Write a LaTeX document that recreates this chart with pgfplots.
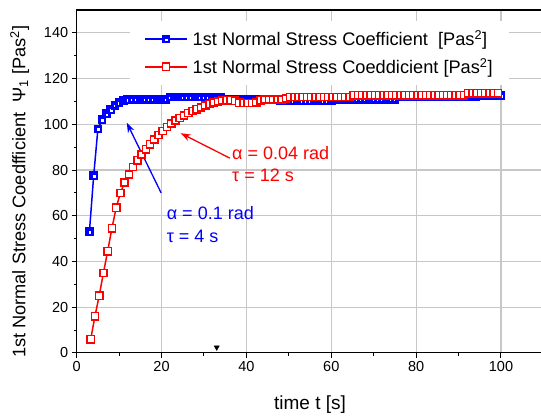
\documentclass[border=0pt]{standalone}
\usepackage{fontspec}
\setmainfont{Liberation Sans}
\usepackage{pgfplots}
\usepackage{pgfplotstable}
\pgfplotsset{compat=1.18}
\usetikzlibrary{arrows.meta}

\pgfdeclareplotmark{halfsq}{%
  \pgfpathrectangle{\pgfpoint{-\pgfplotmarksize}{-\pgfplotmarksize}}{\pgfpoint{2\pgfplotmarksize}{2\pgfplotmarksize}}%
  \pgfusepathqfillstroke
  \pgfscope
  \pgfsetfillcolor{white}%
  \pgfpathrectangle{\pgfpoint{-0.2\pgfplotmarksize}{-0.55\pgfplotmarksize}}{\pgfpoint{0.7\pgfplotmarksize}{0.7\pgfplotmarksize}}%
  \pgfusepathqfill
  \endpgfscope
}

\pgfplotstableread{
t y
3 53
4 77.5
5 98
6 102
7 104.7
8 106.5
9 108.3
10 109.5
11 110.3
12 110.8
13 110.9
14 110.9
15 110.9
16 110.9
17 110.9
18 110.9
19 110.9
20 110.9
21 110.9
22 111.9
23 111.9
24 111.9
25 111.9
26 111.9
27 111.9
28 111.9
29 111.9
30 111.9
31 111.9
32 111.9
33 111.9
34 111.9
35 111
36 111
37 111
38 111
39 111
40 111
41 111
42 111
43 111
44 111
45 111
46 111
47 111
48 110.3
49 110.3
50 110.3
51 110.3
52 110.3
53 110.3
54 110.3
55 110.3
56 110.3
57 110.3
58 110.3
59 110.3
60 110.3
61 110.9
62 110.9
63 110.9
64 110.9
65 110.9
66 110.9
67 110.9
68 110.9
69 110.9
70 110.9
71 110.9
72 110.9
73 110.9
74 110.9
75 110.9
76 112.2
77 112.2
78 112.2
79 112.2
80 112.2
81 112.2
82 112.2
83 112.2
84 112.2
85 112.2
86 112.2
87 112.2
88 112.2
89 112.2
90 112.2
91 112.2
92 112.2
93 112.2
94 112.2
95 112.6
96 112.6
97 112.6
98 112.6
99 112.6
100 112.6
}\blue

\pgfplotstableread{
t y
3.3 6
4.3 16
5.3 25
6.3 35
7.3 44.5
8.3 54.5
9.3 63.5
10.3 70
11.3 74.5
12.3 78
13.3 81.3
14.3 84.3
15.3 86.8
16.3 89.1
17.3 91.3
18.3 93.3
19.3 95.3
20.3 97.1
21.3 98.8
22.3 100.4
23.3 101.7
24.3 102.7
25.3 103.8
26.3 105
27.3 105.8
28.3 106.6
29.3 107.3
30.3 108.2
31.3 108.9
32.3 109.5
33.3 110
34.3 110.4
35.3 110.5
36.3 110.5
37.3 110.3
38.3 109.4
39.3 109.3
40.3 109.3
41.3 109.3
42.3 109.5
43.3 110.5
44.3 110.8
45.3 110.8
46.3 110.8
47.3 110.8
48.3 110.8
49.3 111.3
50.3 112
51.3 112
52.3 112
53.3 112
54.3 112
55.3 112
56.3 112
57.3 112
58.3 112
59.3 112
60.3 112
61.3 112
62.3 112
63.3 112
64.3 112
65.3 112.7
66.3 112.7
67.3 112.7
68.3 112.7
69.3 112.7
70.3 112.7
71.3 112.7
72.3 112.7
73.3 112.7
74.3 112.7
75.3 112.7
76.3 112.7
77.3 112.7
78.3 112.7
79.3 112.7
80.3 112.7
81.3 112.7
82.3 112.7
83.3 112.7
84.3 112.7
85.3 112.7
86.3 112.7
87.3 112.7
88.3 112.7
89.3 112.7
90.3 112.7
91.3 112.7
92.3 113.6
93.3 113.6
94.3 113.6
95.3 113.6
96.3 113.6
97.3 113.6
98.3 113.6
99.3 113.6
}\red

\begin{document}
\begin{tikzpicture}
\begin{axis}[
  name=ax,
  scale only axis,
  width=466.7pt, height=342.9pt,
  xmin=0, xmax=110, ymin=0, ymax=150,
  xtick={0,20,...,100}, ytick={0,20,...,140},
  minor x tick num=1, minor y tick num=1,
  xtick pos=bottom, ytick pos=left,
  tick align=outside,
  major tick length=5pt, minor tick length=3pt,
  tick style={black, line width=1pt},
  axis line style={line width=1.2pt},
  grid=major,
  major grid style={color=black!22, line width=1.2pt},
  /pgf/number format/assume math mode=true,
  ticklabel style={font=\fontsize{14.5}{17}\selectfont},
  xlabel={time t [s]},
  ylabel={1st Normal Stress Coedfficient\ \ Ψ\textsubscript{1} [Pas\textsuperscript{2}]},
  label style={font=\fontsize{19}{22}\selectfont},
  xlabel style={at={(axis description cs:0.5,-0.152)}, anchor=center},
  ylabel style={at={(axis description cs:-0.1221,0.47)}, anchor=center, font=\fontsize{18.2}{21}\selectfont},
  legend cell align=left,
  legend style={at={(axis description cs:0.1142,0.969)}, anchor=north west,
    draw=none, fill=white, font=\fontsize{18.2}{21}\selectfont,
    inner xsep=14pt, inner ysep=8pt, row sep=7pt,
    /tikz/every odd column/.append style={column sep=3pt}},
  legend image code/.code={\draw[mark repeat=2,mark phase=2] plot coordinates {(0pt,0pt) (21pt,0pt) (42pt,0pt)};},
]
\addplot[blue, line width=1.5pt, mark=halfsq, mark size=3.8pt, mark options={solid, line width=1pt, fill=blue}] table[x=t,y=y] {\blue};
\addlegendentry{1st Normal Stress Coefficient\ \ [Pas\textsuperscript{2}]}
\addplot[red, line width=1.5pt, mark=square*, mark size=3.6pt, mark options={solid, line width=1.5pt, fill=white}] table[x=t,y=y] {\red};
\addlegendentry{1st Normal Stress Coeddicient [Pas\textsuperscript{2}]}
\addplot[only marks, mark=triangle*, mark size=3pt, mark options={rotate=180, fill=black, draw=black}, forget plot] coordinates {(33,2.4)};
\draw[red, line width=1.3pt, -{Stealth[length=10pt,width=7pt]}] (axis cs:36.1,85.2) -- (axis cs:24.5,96.1);
\draw[blue, line width=1.3pt, -{Stealth[length=10pt,width=7pt]}] (axis cs:19.9,70) -- (axis cs:11.8,100.7);
\node[anchor=west, align=left, text=red, font=\fontsize{18}{22}\selectfont, inner sep=0pt] at (axis cs:36.6,82.5) {α = 0.04 rad\\τ = 12 s};
\node[anchor=west, align=left, text=blue, font=\fontsize{18}{23}\selectfont, inner sep=0pt] at (axis cs:21.2,56.2) {α = 0.1 rad\\τ = 4 s};
\end{axis}
\pgfresetboundingbox
\path[use as bounding box] ([xshift=-76.7pt,yshift=-64pt]ax.south west) rectangle ([xshift=-2.4pt,yshift=10pt]ax.north east);
\end{tikzpicture}
\end{document}
